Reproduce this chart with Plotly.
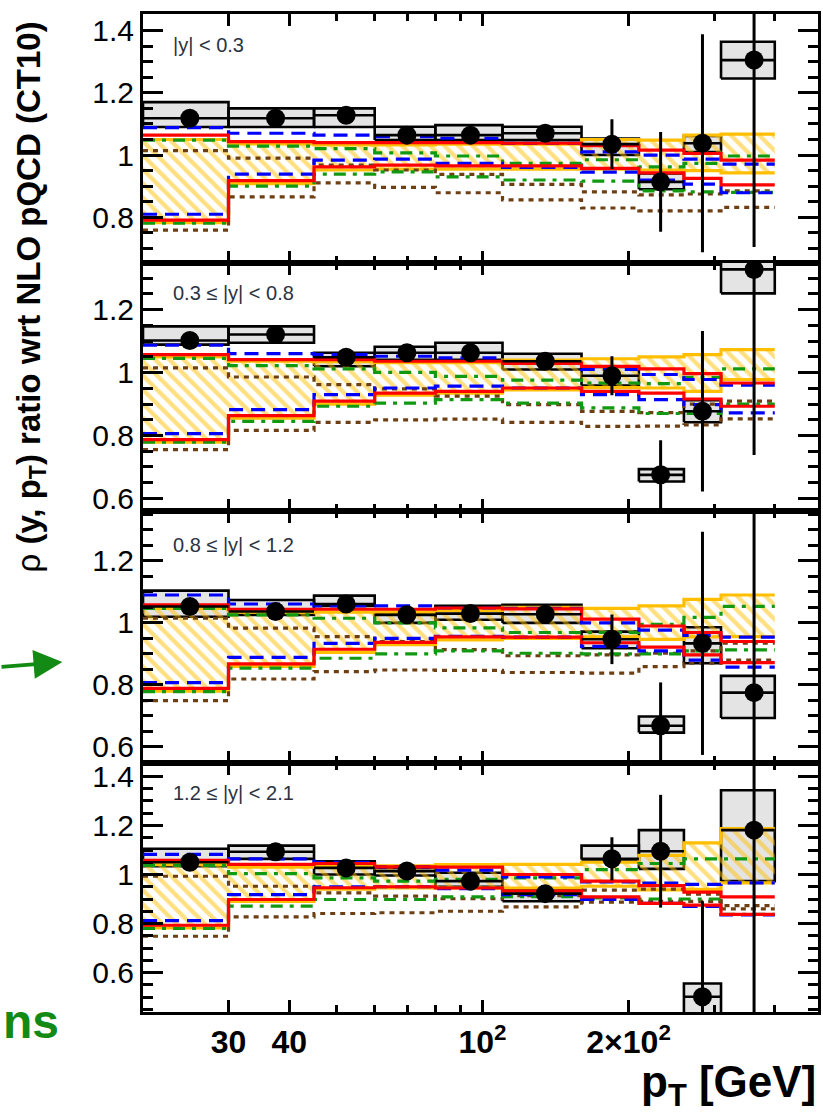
import math
import plotly.graph_objects as go
from plotly.subplots import make_subplots

# ---------------- data ----------------
edges = [20, 30, 45, 60, 80, 110, 160, 210, 260, 310, 400]
pt_mean = [24.97, 37.5, 52.4, 69.9, 94.5, 134.7, 184.8, 232.8, 283.9, 362.6]

panel_labels = ["|y| < 0.3", "0.3 ≤ |y| < 0.8", "0.8 ≤ |y| < 1.2", "1.2 ≤ |y| < 2.1"]
y_ranges = [[0.655, 1.453], [0.56, 1.35], [0.548, 1.361], [0.439, 1.455]]

data_y = [
    [1.118, 1.118, 1.128, 1.064, 1.064, 1.070, 1.035, 0.914, 1.038, 1.305],
    [1.102, 1.121, 1.049, 1.063, 1.063, 1.036, 0.990, 0.675, 0.877, 1.328],
    [1.053, 1.037, 1.061, 1.026, 1.030, 1.028, 0.947, 0.668, 0.934, 0.775],
    [1.050, 1.093, 1.027, 1.014, 0.973, 0.922, 1.064, 1.095, 0.501, 1.181],
]
stat_err = [
    [0.005, 0.008, 0.020, 0.010, 0.010, 0.015, 0.080, 0.160, 0.350, 0.600],
    [0.005, 0.010, 0.010, 0.010, 0.010, 0.010, 0.062, 0.110, 0.255, 0.590],
    [0.005, 0.010, 0.020, 0.010, 0.010, 0.010, 0.080, 0.140, 0.360, 0.620],
    [0.005, 0.015, 0.010, 0.010, 0.010, 0.010, 0.088, 0.230, 0.390, 0.800],
]
sys_low = [
    [1.090, 1.090, 1.090, 1.048, 1.048, 1.048, 1.000, 0.890, 1.010, 1.246],
    [1.089, 1.095, 1.020, 1.041, 1.041, 1.010, 0.959, 0.654, 0.842, 1.252],
    [1.020, 1.026, 1.055, 1.000, 1.010, 1.000, 0.918, 0.646, 0.870, 0.693],
    [1.034, 1.064, 1.000, 0.996, 0.950, 0.891, 1.061, 1.023, 0.400, 0.973],
]
sys_high = [
    [1.170, 1.150, 1.150, 1.091, 1.096, 1.091, 1.053, 0.941, 1.061, 1.364],
    [1.147, 1.147, 1.063, 1.082, 1.095, 1.060, 1.018, 0.693, 0.912, 1.420],
    [1.104, 1.074, 1.088, 1.031, 1.055, 1.058, 0.972, 0.698, 0.986, 0.829],
    [1.105, 1.118, 1.054, 1.027, 1.007, 0.942, 1.118, 1.181, 0.555, 1.344],
]

# theory curves (upper / lower edges)
blue_up = [
    [1.088, 1.070, 1.064, 1.059, 1.054, 1.038, 1.010, 1.000, 0.987, 0.971],
    [1.087, 1.060, 1.057, 1.052, 1.047, 1.029, 1.010, 0.994, 0.978, 0.960],
    [1.090, 1.061, 1.055, 1.055, 1.048, 1.047, 1.000, 0.977, 0.960, 0.954],
    [1.082, 1.064, 1.050, 1.031, 1.018, 0.990, 0.970, 0.965, 0.960, 0.966],
]
blue_lo = [
    [0.810, 0.939, 0.984, 0.987, 0.973, 0.960, 0.945, 0.920, 0.907, 0.879],
    [0.806, 0.882, 0.930, 0.951, 0.957, 0.951, 0.930, 0.914, 0.898, 0.872],
    [0.807, 0.889, 0.934, 0.950, 0.957, 0.954, 0.924, 0.910, 0.880, 0.857],
    [0.812, 0.918, 0.950, 0.950, 0.942, 0.918, 0.898, 0.882, 0.870, 0.835],
]
red_up = [
    [1.064, 1.043, 1.040, 1.040, 1.040, 1.038, 1.030, 1.016, 1.005, 0.984],
    [1.057, 1.041, 1.041, 1.036, 1.036, 1.029, 1.020, 1.012, 0.997, 0.967],
    [1.058, 1.044, 1.044, 1.044, 1.048, 1.045, 1.012, 0.990, 0.969, 0.940],
    [1.058, 1.041, 1.045, 1.031, 1.030, 1.000, 0.973, 0.955, 0.928, 0.909],
]
red_lo = [
    [0.791, 0.918, 0.962, 0.968, 0.965, 0.965, 0.957, 0.943, 0.925, 0.904],
    [0.787, 0.863, 0.909, 0.935, 0.940, 0.951, 0.940, 0.935, 0.916, 0.893],
    [0.789, 0.868, 0.915, 0.937, 0.955, 0.954, 0.936, 0.922, 0.897, 0.872],
    [0.793, 0.898, 0.946, 0.950, 0.945, 0.932, 0.909, 0.882, 0.875, 0.837],
]
band_up = [
    [1.050, 1.036, 1.033, 1.033, 1.035, 1.035, 1.050, 1.048, 1.064, 1.067],
    [1.050, 1.036, 1.035, 1.032, 1.032, 1.040, 1.044, 1.050, 1.057, 1.073],
    [1.047, 1.035, 1.035, 1.035, 1.040, 1.050, 1.047, 1.055, 1.076, 1.090],
    [1.040, 1.030, 1.035, 1.035, 1.040, 1.041, 1.050, 1.078, 1.129, 1.187],
]
band_lo = [
    [0.783, 0.908, 0.952, 0.955, 0.955, 0.955, 0.955, 0.952, 0.950, 0.943],
    [0.779, 0.855, 0.900, 0.928, 0.935, 0.945, 0.952, 0.951, 0.940, 0.978],
    [0.780, 0.860, 0.905, 0.930, 0.945, 0.950, 0.955, 0.947, 0.955, 0.956],
    [0.782, 0.890, 0.940, 0.945, 0.945, 0.945, 0.952, 0.937, 0.939, 0.966],
]
green_up = [
    [1.048, 1.029, 1.021, 1.007, 0.997, 0.973, 0.985, 0.962, 0.973, 0.997],
    [1.045, 1.022, 1.012, 1.001, 0.988, 0.976, 0.967, 0.965, 0.985, 1.012],
    [1.047, 1.026, 1.015, 1.000, 0.984, 0.969, 0.969, 0.995, 1.018, 1.053],
    [1.037, 1.004, 0.986, 0.973, 0.980, 0.986, 1.020, 1.045, 1.064, 1.064],
]
green_lo = [
    [0.781, 0.900, 0.939, 0.946, 0.930, 0.920, 0.916, 0.885, 0.882, 0.880],
    [0.779, 0.845, 0.893, 0.903, 0.914, 0.903, 0.888, 0.870, 0.870, 0.900],
    [0.778, 0.854, 0.886, 0.900, 0.910, 0.902, 0.900, 0.900, 0.910, 0.913],
    [0.780, 0.871, 0.898, 0.898, 0.909, 0.910, 0.905, 0.900, 0.900, 0.837],
]
brown_up = [
    [1.014, 0.990, 0.968, 0.952, 0.938, 0.906, 0.882, 0.872, 0.875, 0.885],
    [1.015, 0.986, 0.962, 0.948, 0.925, 0.898, 0.877, 0.873, 0.900, 0.909],
    [1.015, 0.983, 0.956, 0.940, 0.914, 0.894, 0.897, 0.902, 0.910, 0.935],
    [0.993, 0.952, 0.925, 0.912, 0.901, 0.914, 0.936, 0.940, 0.920, 0.873],
]
brown_lo = [
    [0.759, 0.866, 0.911, 0.896, 0.879, 0.856, 0.830, 0.821, 0.821, 0.832],
    [0.755, 0.816, 0.842, 0.850, 0.852, 0.842, 0.829, 0.830, 0.834, 0.853],
    [0.749, 0.819, 0.843, 0.848, 0.847, 0.840, 0.838, 0.859, 0.870, 0.880],
    [0.748, 0.827, 0.841, 0.844, 0.850, 0.868, 0.887, 0.890, 0.890, 0.860],
]

x_tickvals = [30, 40, 100, 200]
x_ticktext = ["<b>30</b>", "<b>40</b>", "<b>10<sup>2</sup></b>", "<b>2×10<sup>2</sup></b>"]
x_minor = [50, 60, 70, 80, 90, 300, 400]
y_tickvals = [0.6, 0.8, 1.0, 1.2, 1.4]
y_ticktext = ["0.6", "0.8", "1", "1.2", "1.4"]

# ---------------- styles ----------------
YELLOW = "#FFBF00"
RED = "#FF0000"
BLUE = "#0000FF"
GREEN = "#119911"
BROWN = "#6E3F12"
FONT = "Liberation Sans, Arial, sans-serif"

fig = make_subplots(rows=4, cols=1, shared_xaxes=True, vertical_spacing=0)


def step(vals):
    return edges, list(vals) + [vals[-1]]


def add_step(vals, row, color, dash, width=3.2):
    xs, ys = step(vals)
    fig.add_trace(go.Scatter(x=xs, y=ys, mode="lines", line_shape="hv",
                             line=dict(color=color, width=width, dash=dash),
                             hoverinfo="skip"), row=row, col=1)


for p in range(4):
    row = p + 1
    # systematic boxes
    bx, by = [], []
    for i in range(10):
        lo, hi = edges[i], edges[i + 1]
        b, t = sys_low[p][i], sys_high[p][i]
        bx += [lo, hi, hi, lo, lo, None]
        by += [b, b, t, t, b, None]
    fig.add_trace(go.Scatter(x=bx, y=by, mode="lines", fill="toself",
                             fillcolor="#E4E4E4", line=dict(color="black", width=2.6),
                             hoverinfo="skip"), row=row, col=1)
    # hatched yellow band
    xs, ys = step(band_lo[p])
    fig.add_trace(go.Scatter(x=xs, y=ys, mode="lines", line_shape="hv",
                             line=dict(color=YELLOW, width=3.2), hoverinfo="skip"),
                  row=row, col=1)
    xs, ys = step(band_up[p])
    fig.add_trace(go.Scatter(x=xs, y=ys, mode="lines", line_shape="hv",
                             line=dict(color=YELLOW, width=3.2), fill="tonexty",
                             fillcolor="rgba(0,0,0,0)",
                             fillpattern=dict(shape="\\", fgcolor=YELLOW,
                                              bgcolor="rgba(255,255,255,0)",
                                              size=10, solidity=0.42),
                             hoverinfo="skip"), row=row, col=1)
    # other model curves
    add_step(brown_up[p], row, BROWN, "5px,5px")
    add_step(brown_lo[p], row, BROWN, "5px,5px")
    add_step(green_up[p], row, GREEN, "12px,7px,4px,7px")
    add_step(green_lo[p], row, GREEN, "12px,7px,4px,7px")
    add_step(blue_up[p], row, BLUE, "14px,8px")
    add_step(blue_lo[p], row, BLUE, "14px,8px")
    add_step(red_up[p], row, RED, "solid")
    add_step(red_lo[p], row, RED, "solid")
    # horizontal bin-width bars
    hx, hy = [], []
    for i in range(10):
        hx += [edges[i], edges[i + 1], None]
        hy += [data_y[p][i], data_y[p][i], None]
    fig.add_trace(go.Scatter(x=hx, y=hy, mode="lines",
                             line=dict(color="black", width=2.6), hoverinfo="skip"),
                  row=row, col=1)
    # data points with stat errors
    fig.add_trace(go.Scatter(x=pt_mean, y=data_y[p], mode="markers",
                             marker=dict(color="black", size=19),
                             error_y=dict(type="data", array=stat_err[p], width=0,
                                          thickness=3, color="black"),
                             cliponaxis=True, hoverinfo="skip"),
                  row=row, col=1)

# ---------------- layout ----------------
bottoms = [262.5, 511, 763, 1012]
tops = [14, 262.5, 511, 763]
H = 998.0
for p in range(4):
    row = p + 1
    dom = [(1012 - bottoms[p]) / H, (1012 - tops[p]) / H]
    fig.update_yaxes(row=row, col=1, domain=dom, range=y_ranges[p],
                     tickmode="array", tickvals=y_tickvals, ticktext=y_ticktext,
                     ticks="inside", ticklen=20, tickwidth=2.6, tickcolor="black",
                     minor=dict(tickmode="linear", tick0=0, dtick=0.05, ticks="inside",
                                ticklen=10, tickwidth=2.6, tickcolor="black"),
                     showline=True, linewidth=3, linecolor="black", mirror="ticks",
                     showgrid=False, zeroline=False,
                     tickfont=dict(family=FONT, size=30, color="black"))
    fig.update_xaxes(row=row, col=1, type="log",
                     range=[math.log10(20), math.log10(491)],
                     tickmode="array", tickvals=x_tickvals, ticktext=x_ticktext,
                     ticks="inside", ticklen=12, tickwidth=2.6, tickcolor="black",
                     minor=dict(tickvals=x_minor, ticks="inside", ticklen=7,
                                tickwidth=2.6, tickcolor="black"),
                     showline=True, linewidth=3, linecolor="black", mirror="ticks",
                     showgrid=False, zeroline=False,
                     showticklabels=(row == 4),
                     tickfont=dict(family=FONT, size=32, color="black"))

annotations = []
label_py = [45, 293, 545, 793]
for p in range(4):
    annotations.append(dict(xref="paper", yref="paper",
                            x=(171 - 143) / 678.0, y=(1012 - label_py[p]) / H,
                            xanchor="left", yanchor="middle", showarrow=False,
                            text=panel_labels[p],
                            font=dict(family=FONT, size=20, color="#2B3342")))
annotations.append(dict(xref="paper", yref="paper", x=(30 - 143) / 678.0,
                        y=(1012 - 297) / H, xanchor="center", yanchor="middle",
                        textangle=-90, showarrow=False,
                        text="ρ <b>(y, p<sub>T</sub>) ratio wrt NLO pQCD (CT10)</b>",
                        font=dict(family=FONT, size=33, color="black")))
annotations.append(dict(xref="paper", yref="paper", x=(821 - 143) / 678.0,
                        y=(1012 - 1085) / H, xanchor="right", yanchor="middle",
                        showarrow=False, text="<b>p<sub>T</sub> [GeV]</b>",
                        font=dict(family=FONT, size=44, color="black")))
annotations.append(dict(xref="paper", yref="paper", x=(62 - 143) / 678.0,
                        y=(1012 - 662) / H, showarrow=True, ax=-64, ay=5,
                        arrowhead=2, arrowsize=1.6, arrowwidth=3.6,
                        arrowcolor="#138A13", text=""))
annotations.append(dict(xref="paper", yref="paper", x=(0 - 143) / 678.0,
                        y=(1012 - 1022) / H, xanchor="left", yanchor="middle",
                        showarrow=False, text="<b>ns</b>",
                        font=dict(family=FONT, size=48, color="#138A13")))

fig.update_layout(width=823, height=1118,
                  margin=dict(l=143, r=2, t=14, b=106),
                  plot_bgcolor="white", paper_bgcolor="white",
                  showlegend=False, annotations=annotations,
                  font=dict(family=FONT, color="black"))

fig.write_html("out.html")
